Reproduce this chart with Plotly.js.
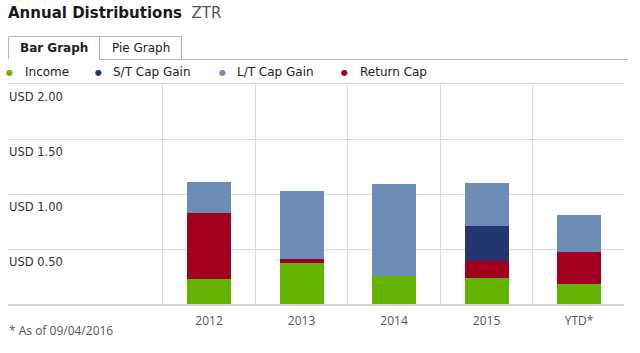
<!DOCTYPE html>
<html>
<head>
<meta charset="utf-8">
<script src="https://cdn.plot.ly/plotly-3.0.1.min.js"></script>
<style>html,body{margin:0;padding:0;background:#fff;}#chart{width:640px;height:353px;}</style>
</head>
<body>
<div id="chart"></div>
<script>
// ---- data ----
var categories = ['2012', '2013', '2014', '2015', 'YTD*'];
var income      = [0.23, 0.37, 0.255, 0.24, 0.18];
var returnCap   = [0.595, 0.04, 0, 0.15, 0.29];
var stCapGain   = [0, 0, 0, 0.32, 0];
var ltCapGain   = [0.285, 0.615, 0.835, 0.39, 0.34];
var yTickVals   = [0.5, 1.0, 1.5, 2.0];
var yTickText   = ['USD 0.50', 'USD 1.00', 'USD 1.50', 'USD 2.00'];
var legendNames = ['Income', 'S/T Cap Gain', 'L/T Cap Gain', 'Return Cap'];
var footnote    = '* As of 09/04/2016';

// ---- styling ----
var colors = {
  'Income': '#63b300',
  'S/T Cap Gain': '#243670',
  'L/T Cap Gain': '#6d8cb6',
  'Return Cap': '#a3001f'
};

// plot area geometry in px
var W = 640, H = 353, L = 8, R = 16, T = 84, B = 49;
var pw = W - L - R, ph = H - T - B;
function px(x) { return (x - L) / pw; }
function py(y) { return (H - B - y) / ph; }

function barTrace(name, vals) {
  return {
    type: 'bar', name: name, x: categories, y: vals,
    width: 0.476, marker: {color: colors[name], line: {width: 0}},
    showlegend: false, hoverinfo: 'skip'
  };
}
var data = [
  barTrace('Income', income),
  barTrace('Return Cap', returnCap),
  barTrace('S/T Cap Gain', stCapGain),
  barTrace('L/T Cap Gain', ltCapGain)
];

var annotations = [];
var legendDotX = [9, 98, 222, 344];
var legendTextX = [23, 111, 235, 358];
legendNames.forEach(function (n, i) {
  annotations.push({xref: 'paper', yref: 'paper', x: px(legendDotX[i]), y: py(73),
    xanchor: 'center', yanchor: 'middle', showarrow: false, text: '●',
    font: {family: 'DejaVu Sans', size: 8, color: colors[n]}});
  annotations.push({xref: 'paper', yref: 'paper', x: px(legendTextX[i]), y: py(72),
    xanchor: 'left', yanchor: 'middle', showarrow: false, text: n,
    font: {family: 'DejaVu Sans', size: 12, color: '#222'}});
});
// tabs text
annotations.push({xref: 'paper', yref: 'paper', x: px(54), y: py(48), xanchor: 'center', yanchor: 'middle',
  showarrow: false, text: '<b>Bar Graph</b>', font: {family: 'DejaVu Sans', size: 12, color: '#222'}});
annotations.push({xref: 'paper', yref: 'paper', x: px(140.5), y: py(48), xanchor: 'center', yanchor: 'middle',
  showarrow: false, text: 'Pie Graph', font: {family: 'DejaVu Sans', size: 12, color: '#222'}});
// footnote
annotations.push({xref: 'paper', yref: 'paper', x: px(7), y: py(330), xanchor: 'left', yanchor: 'middle',
  showarrow: false, text: footnote, font: {family: 'Open Sans', size: 12, color: '#555'}});

var bc = '#b4b4b4';
var shapes = [
  {type: 'path', xref: 'paper', yref: 'paper',
   path: 'M ' + px(8.5) + ' ' + py(59) + ' L ' + px(8.5) + ' ' + py(36.5) + ' L ' + px(99.5) + ' ' + py(36.5) + ' L ' + px(99.5) + ' ' + py(59),
   line: {color: bc, width: 1}},
  {type: 'rect', xref: 'paper', yref: 'paper', x0: px(99.5), x1: px(181.5), y0: py(36.5), y1: py(59.5),
   line: {color: bc, width: 1}},
  {type: 'line', xref: 'paper', yref: 'paper', x0: px(181.5), x1: px(628), y0: py(59.5), y1: py(59.5),
   line: {color: bc, width: 1}}
];

var layout = {
  width: W, height: H,
  margin: {l: L, r: R, t: T, b: B, pad: 0},
  paper_bgcolor: '#fff', plot_bgcolor: '#fff',
  barmode: 'stack', bargap: 0,
  showlegend: false,
  title: {
    text: '<b>Annual Distributions</b>&nbsp;&nbsp;<span style="font-weight:normal;color:#555">ZTR</span>',
    x: 8 / W, xanchor: 'left', xref: 'container',
    y: 1 - 13 / H, yanchor: 'middle', yref: 'container',
    font: {family: 'DejaVu Sans', size: 15, color: '#1a1a1a'}
  },
  xaxis: {
    type: 'category', range: [-2.173, 4.486], fixedrange: true,
    tickson: 'boundaries', ticks: '', showgrid: true, gridcolor: '#dadada', gridwidth: 1,
    tickfont: {family: 'Open Sans', size: 12, color: '#555'},
    showline: true, mirror: true, linecolor: '#d6d6d6', linewidth: 1.5,
    zeroline: false, ticklabelstandoff: 5
  },
  yaxis: {
    range: [0, 2], fixedrange: true,
    tickvals: yTickVals, ticktext: yTickText,
    ticklabelposition: 'inside', ticklabelshift: 13, ticklabelstandoff: -2,
    tickfont: {family: 'DejaVu Sans', size: 11.5, color: '#333'},
    showgrid: true, gridcolor: '#dadada', gridwidth: 1,
    zeroline: false, ticks: '', showline: false
  },
  annotations: annotations,
  shapes: shapes,
  font: {family: 'DejaVu Sans'}
};

Plotly.newPlot('chart', data, layout, {displayModeBar: false, staticPlot: true});
</script>
</body>
</html>
